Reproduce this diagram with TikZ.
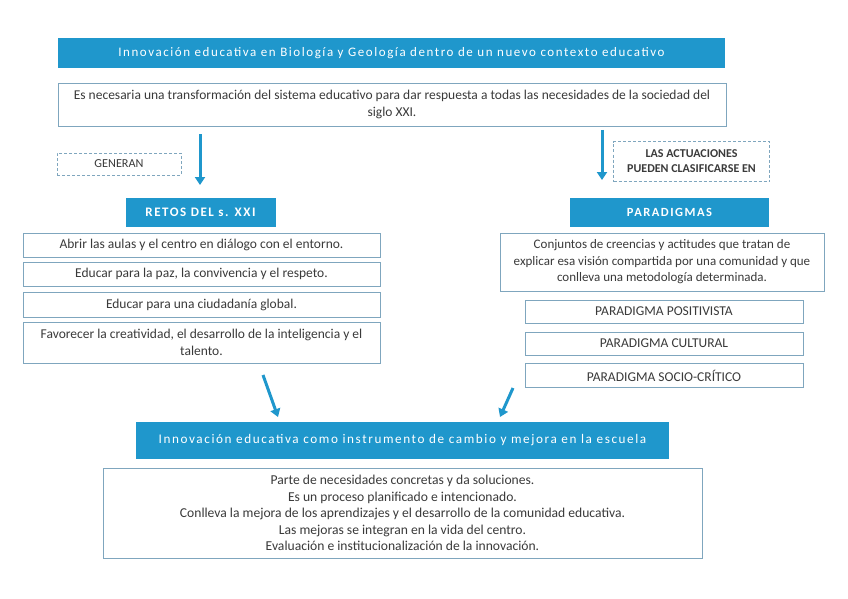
\documentclass[tikz,border=0pt]{standalone}
\usepackage{fontspec}
\setmainfont{Carlito}
\usetikzlibrary{arrows.meta}
\definecolor{barblue}{HTML}{1F97CC}
\definecolor{edge}{HTML}{7FA6BE}
\definecolor{txt}{HTML}{3A3A3A}
\tikzset{
  bar/.style={fill=barblue, draw=none, text=white, inner sep=0pt, align=center},
  box/.style={draw=edge, line width=0.9pt, fill=white, text=txt, inner sep=0pt, align=center, font=\fontsize{13.5}{16.5}\selectfont},
  dbox/.style={draw=edge, dash pattern=on 3pt off 2pt, line width=0.9pt, text=txt, inner sep=0pt, align=center},
  flow/.style={draw=barblue, line width=3pt, -{Triangle[width=10pt,length=8pt]}},
}
\newcommand{\spaced}[1]{{\addfontfeatures{LetterSpace=12}#1}}
\begin{document}
\begin{tikzpicture}[x=1pt,y=-1pt]
\useasboundingbox (0,0) rectangle (848,599);
% top
\node[bar, minimum width=667, minimum height=30, font=\fontsize{13}{15}\selectfont] (title) at (391.5,53) {\spaced{Innovación educativa en Biología y Geología dentro de un nuevo contexto educativo}};
\node[box, minimum width=668, minimum height=43] (need) at (392,104.5) {Es necesaria una transformación del sistema educativo para dar respuesta a todas las necesidades de la sociedad del\\siglo XXI.};
% left column
\node[dbox, minimum width=124, minimum height=22, font=\fontsize{12.2}{14}\selectfont] (gen) at (119,164) {GENERAN};
\coordinate (a1s) at (200,134);
\coordinate (a1e) at (200,185);
\draw[flow] (a1s) -- (a1e);
\node[bar, minimum width=150, minimum height=29, font=\bfseries\fontsize{13}{15}\selectfont] (retos) at (200.5,212.5) {\spaced{RETOS DEL s. XXI}};
\node[box, minimum width=357, minimum height=24] (r1) at (201.5,245) {Abrir las aulas y el centro en diálogo con el entorno.};
\node[box, minimum width=357, minimum height=24] (r2) at (201.5,274) {Educar para la paz, la convivencia y el respeto.};
\node[box, minimum width=357, minimum height=25] (r3) at (201.5,304.5) {Educar para una ciudadanía global.};
\node[box, minimum width=357, minimum height=41] (r4) at (201.5,342.5) {Favorecer la creatividad, el desarrollo de la inteligencia y el\\talento.};
% right column
\coordinate (a2s) at (602,130);
\coordinate (a2e) at (602,180);
\draw[flow] (a2s) -- (a2e);
\node[dbox, minimum width=156, minimum height=40, font=\bfseries\fontsize{12}{15}\selectfont] (act) at (691.5,161.5) {LAS ACTUACIONES\\PUEDEN CLASIFICARSE EN};
\node[bar, minimum width=199, minimum height=29, font=\bfseries\fontsize{12.5}{15}\selectfont] (para) at (669.5,212) {\spaced{PARADIGMAS}};
\node[box, minimum width=324, minimum height=58, font=\fontsize{13}{16.5}\selectfont] (conj) at (662,262) {Conjuntos de creencias y actitudes que tratan de\\explicar esa visión compartida por una comunidad y que\\conlleva una metodología determinada.};
\node[box, minimum width=278, minimum height=23] (p1) at (664,311.5) {PARADIGMA POSITIVISTA};
\node[box, minimum width=278, minimum height=23] (p2) at (664,343.5) {PARADIGMA CULTURAL};
\node[box, minimum width=278, minimum height=24] (p3) at (664,375.5) {PARADIGMA SOCIO-CRÍTICO};
% bottom
\coordinate (a3s) at (263,375);
\coordinate (a3e) at (278,417);
\draw[flow] (a3s) -- (a3e);
\coordinate (a4s) at (513,388);
\coordinate (a4e) at (500,417);
\draw[flow] (a4s) -- (a4e);
\node[bar, minimum width=533, minimum height=37, font=\fontsize{13.2}{15}\selectfont] (innov) at (402.5,440) {\spaced{Innovación educativa como instrumento de cambio y mejora en la escuela}};
\node[box, minimum width=599, minimum height=90, font=\fontsize{13.6}{16.6}\selectfont] (final) at (402.5,513) {Parte de necesidades concretas y da soluciones.\\Es un proceso planificado e intencionado.\\Conlleva la mejora de los aprendizajes y el desarrollo de la comunidad educativa.\\Las mejoras se integran en la vida del centro.\\Evaluación e institucionalización de la innovación.};
\end{tikzpicture}
\end{document}
